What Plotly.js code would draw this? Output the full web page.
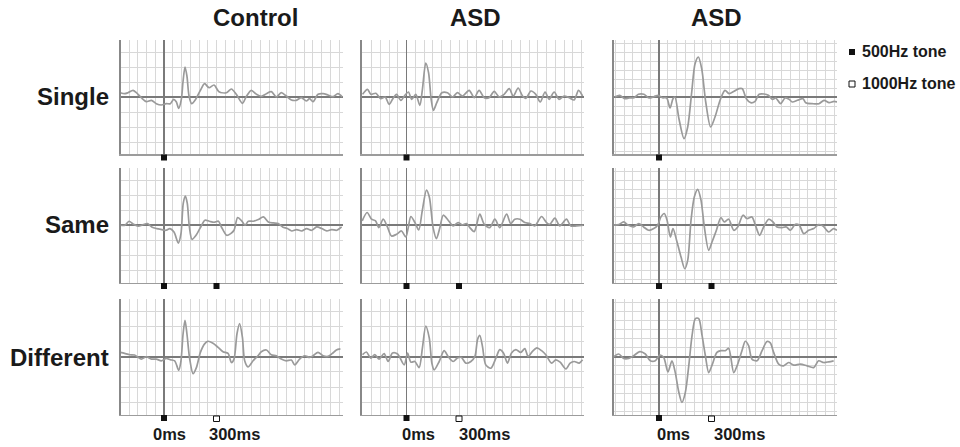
<!DOCTYPE html>
<html>
<head>
<meta charset="utf-8">
<script src="https://cdn.plot.ly/plotly-3.0.1.min.js"></script>
<style>html,body{margin:0;padding:0;background:#fff;}#chart{width:960px;height:447px;}</style>
</head>
<body>
<div id="chart"></div>
<script>
// ---- labels ----
const columnTitles = ['Control', 'ASD', 'ASD'];
const rowLabels = ['Single', 'Same', 'Different'];
const toneNames = ['500Hz tone', '1000Hz tone'];
const timeLabels = ['0ms', '300ms'];

// ---- stimulus onsets (ms) and tone type per condition row ----
const onsetSingle = [0];          const toneSingle = ['500Hz'];
const onsetSame = [0, 300];       const toneSame = ['500Hz', '500Hz'];
const onsetDifferent = [0, 300];  const toneDifferent = ['500Hz', '1000Hz'];

// ---- waveforms (time in ms, amplitude in arbitrary units, + up) ----
const tCtrlSingle = [-250,-225,-206,-177,-158,-130,-101,-72,-44,-15,13,36,55,70,84,99,109,120,131,143,158,181,208,232,257,286,314,356,385,413,448,471,499,528,556,585,613,642,670,699,728,756,785,813,832,852,880,909,937,966,994,1019];
const vCtrlSingle = [4.3,3.3,4.3,6.7,4.3,-0.7,-4.7,-3.3,-6.7,-8,-6.7,-6.7,-2.3,-4.7,-11.3,-2.3,16,30,21,1,-6.7,-2.3,6.7,13.3,9.3,12,5.3,4.3,8,2.7,-6.3,0.7,6.7,2.7,0.7,3.3,5.3,0,4.3,1,-3,-3.3,-0.7,-4,-1.7,-4.7,2.7,3.3,2,0.3,3.3,0];

const tAsdASingle = [-251,-223,-204,-175,-147,-122,-99,-80,-57,-32,-8,11,30,53,76,91,110,126,141,154,173,202,234,263,291,320,358,387,415,444,472,501,530,558,587,610,638,663,682,711,739,764,792,815,844,872,901,930,958,983,1006];
const vAsdASingle = [2.7,7.7,2.7,3.7,-1.7,0,-7.3,-2.3,2.7,-3.3,2,5,-2.3,2.7,-8.3,7.7,34,24.3,-2.3,-13.3,-5.7,4.3,4.3,0,4.3,1,6.7,-0.7,6.7,-0.7,-0.7,5.7,0,2.7,8.3,1,9,1,-1.3,6,2.7,-5,5,-2.3,5,-2.3,1,-0.7,-3,6.7,1];

const tAsdBSingle = [-253,-225,-196,-171,-143,-118,-86,-57,-29,-4,19,44,63,80,91,114,143,164,187,206,225,244,267,295,320,352,377,400,429,457,476,499,524,549,572,600,625,648,667,695,720,743,762,791,823,838,876,914,943,972,1000,1019];
const vAsdBSingle = [0,1.7,-1.7,-1,-0.7,2.7,2.7,-1,0.3,1.7,-0.7,-1,-11,-1.7,0,-21.7,-41.7,-30,5,33.3,40,28.3,-5,-30,-20,-1.7,6.7,3.3,5.7,8.3,8.3,-1.7,-5.7,-4.3,2.7,3,1.7,-2.3,-1,-6.7,-1,-2.3,-5,-3.3,-1.7,-5.7,-6.7,-6.7,-3.3,-5.7,-4.3,-5];

const tCtrlSame = [-248,-223,-200,-175,-147,-118,-95,-70,-42,-13,11,34,57,82,97,110,122,133,145,160,183,210,234,259,286,311,328,358,381,400,421,444,463,482,511,539,568,596,625,653,678,705,730,758,787,815,844,872,901,930,958,987,1015];
const vCtrlSame = [0,0,4,1,-1,0.7,1.7,-1.7,-3.3,-4.3,-5,-3.3,-6.7,-17.7,-8.3,21.7,29,21.7,-1.7,-14,-10,-1.7,5,4,3,4,-1.7,-10,-8.3,-5,7.7,4.3,0,4,4,5.7,8.3,3.3,2.3,1.7,-1.7,-3.3,-5.7,-4.3,-5.7,-3.3,-5,-1.7,-3.3,-5.7,-4.3,-5,-1.7];

const tAsdASame = [-253,-225,-200,-177,-158,-133,-109,-86,-57,-29,-4,10,25,48,70,90,114,131,152,171,191,210,238,267,295,318,343,362,387,419,444,476,505,533,572,596,619,648,676,705,733,772,800,819,848,876,914,939,972,1010];
const vAsdASame = [4.3,12.7,6,4.3,-2.3,6,-1.7,-10.7,-9,-5.7,-11.7,-2.3,8.7,2.7,-4.7,14.3,35,27.7,-2.3,-13.3,-2.3,10,5,-0.7,2.7,0.3,1.7,-2.3,-6.3,11,1,-2.3,6,-2.3,11,1.7,6,6,2.7,1.7,-0.7,8.7,2.7,1,7,-0.7,6,-0.7,-0.7,0];

const tAsdBSame = [-259,-230,-202,-175,-145,-116,-88,-59,-30,-8,11,30,46,65,80,103,126,147,164,183,202,221,240,259,284,303,328,354,373,398,427,450,480,503,531,551,575,598,627,651,674,703,728,751,779,802,827,855,884,912,937,970,998,1017];
const vAsdBSame = [0,0.7,3.3,0,-1.7,1.7,-1.7,-5,-3.3,0,8.3,11.7,5,-11.7,-3.3,-16.7,-31.7,-43.3,-35,5,28.3,35.7,25,-1.7,-25,-16.7,-5,7.7,3.3,6,-5,-1.7,10,6.7,8.3,0,-10,-1.7,6,3.3,-1.7,-2.3,-1.7,-5,1,0,-8.3,-5,-3.3,0.7,-0.7,-6.7,-3.3,-5];

const tCtrlDifferent = [-250,-225,-196,-168,-130,-101,-72,-44,-15,13,36,61,84,97,109,120,131,147,166,185,208,232,251,280,309,337,366,385,400,417,432,448,461,480,509,537,556,585,613,642,670,699,728,747,775,804,832,852,880,909,937,962,985,1008];
const vCtrlDifferent = [4.3,3.3,2,1.7,-2.3,0,-2.3,-2.3,-4,-1.7,-3,-4,-13.3,-4,22.7,36,22.7,-2.3,-16.7,-10.7,4.3,12.7,15.3,13.3,9.3,5,3.3,-5.7,-2.3,22.7,32.7,19.3,-4,-10,-4,1,5,6.7,2,1,-2.3,-4,-3.3,-8,-2.3,1,-0.7,1,4.3,1,0.3,3.3,6.7,7.7];

const tAsdADifferent = [-251,-229,-204,-181,-156,-128,-105,-80,-51,-13,6,25,48,72,91,110,130,145,158,187,215,238,267,291,314,339,368,391,406,419,434,453,482,511,533,554,577,600,625,653,676,695,720,745,772,796,829,853,878,911,935,958,987,1006];
const vAsdADifferent = [2,4.7,-1.3,2,-2.3,3,-4.7,3.7,2.7,-8,3.7,-5.3,-4.7,-10.7,8.7,30.3,18.7,-6.3,-13,-4.7,6,0.3,-4.7,-1.3,-0.7,-6.3,-4.7,0.3,17,21,10.3,-8,-11.3,-1.3,7,3.7,-6.3,3.7,7,4.3,8,0.3,5.3,8.7,6,2,-6.3,-3,-5.3,-12,-6.3,-4.7,-6.3,-3];

const tAsdBDifferent = [-263,-230,-202,-173,-145,-110,-78,-50,-21,4,27,51,74,93,112,131,150,170,189,208,227,246,265,284,303,331,354,379,398,427,446,474,493,512,531,560,589,617,636,655,684,712,741,770,808,846,884,912,941,970,998];
const vAsdBDifferent = [-0.7,2.7,-1.7,-1.7,1,5,2.7,-4,-4,1.7,-0.7,-15,-4,-15.7,-34,-45,-35.7,-9,21,37.7,37.7,21,1,-15.7,-8.3,4.3,6,6,8.3,-15.7,-9,6,15.3,11,-2.3,-4,6,15,13.7,4.3,-7.3,-9,-5.7,-8.3,-7.3,-9,-10.7,-4,-5.7,-5,-4];

const panels = [
  [[tCtrlSingle, vCtrlSingle], [tAsdASingle, vAsdASingle], [tAsdBSingle, vAsdBSingle]],
  [[tCtrlSame, vCtrlSame], [tAsdASame, vAsdASame], [tAsdBSame, vAsdBSame]],
  [[tCtrlDifferent, vCtrlDifferent], [tAsdADifferent, vAsdADifferent], [tAsdBDifferent, vAsdBDifferent]]
];
const rowOnsets = [onsetSingle, onsetSame, onsetDifferent];
const rowTones = [toneSingle, toneSame, toneDifferent];

// ---- geometry (pixels) ----
const W = 960, H = 447;
const colPx = [[120.5, 343, 164], [362, 584, 406.5], [614, 837, 659]]; // left, right, 0ms position
const rowPx = [[40, 154], [168, 282.5], [299, 414.5]];                 // top, bottom
const msPerPx = 1 / 0.175;
const yHalf = 57;
const yGridStep = [15, 15, 9];

const px = v => v / W;
const py = v => 1 - v / H;

const data = [];
const layout = {
  width: W, height: H,
  margin: {l: 0, r: 0, t: 0, b: 0},
  paper_bgcolor: '#fff', plot_bgcolor: 'rgba(0,0,0,0)',
  showlegend: false,
  font: {family: 'Liberation Sans, Arial, sans-serif', color: '#1a1a1a'},
  annotations: [], shapes: []
};

let k = 0;
for (let r = 0; r < 3; r++) {
  for (let c = 0; c < 3; c++) {
    k++;
    const xa = 'xaxis' + (k === 1 ? '' : k), ya = 'yaxis' + (k === 1 ? '' : k);
    const xr = 'x' + (k === 1 ? '' : k), yr = 'y' + (k === 1 ? '' : k);
    const [L, R, S] = colPx[c];
    const [T, B] = rowPx[r];
    layout[xa] = {
      domain: [px(L), px(R)], anchor: yr,
      range: [(L - S) * msPerPx, (R - S) * msPerPx],
      showgrid: true, gridcolor: '#d8d8d8', gridwidth: 1, tick0: 0, dtick: 50,
      zeroline: true, zerolinecolor: '#7a7a7a', zerolinewidth: 1.6,
      showline: true, linecolor: '#9c9c9c', linewidth: 1.5,
      showticklabels: false, ticks: '', fixedrange: true
    };
    layout[ya] = {
      domain: [py(B), py(T)], anchor: xr,
      range: [-yHalf, yHalf],
      showgrid: true, gridcolor: '#d8d8d8', gridwidth: 1, tick0: 0, dtick: yGridStep[c],
      zeroline: true, zerolinecolor: '#7a7a7a', zerolinewidth: 1.6,
      showline: true, linecolor: '#888888', linewidth: 2,
      showticklabels: false, ticks: '', fixedrange: true
    };
    const [t, v] = panels[r][c];
    data.push({
      type: 'scatter', mode: 'lines', x: t, y: v, xaxis: xr, yaxis: yr,
      line: {color: '#9a9a9a', width: 1.7, shape: 'spline', smoothing: 0.8},
      hoverinfo: 'skip'
    });
    // stimulus onset markers below the time axis (x from data, y in pixels under the axis)
    rowOnsets[r].forEach((on, j) => {
      const filled = rowTones[r][j] === '500Hz';
      layout.shapes.push({
        type: 'rect', xref: xr, yref: 'paper',
        xsizemode: 'pixel', xanchor: on, x0: -3, x1: 3,
        ysizemode: 'pixel', yanchor: py(B), y0: filled ? -6.5 : -7, y1: filled ? -0.5 : -1.5,
        fillcolor: filled ? '#111' : '#fff', line: {color: '#111', width: filled ? 0 : 1}
      });
    });
  }
}

// column titles
const colCenters = [255, 475, 716];
columnTitles.forEach((s, i) => layout.annotations.push({
  text: '<b>' + s + '</b>', xref: 'paper', yref: 'paper', x: px(colCenters[i]), y: py(17),
  xanchor: 'center', yanchor: 'middle', showarrow: false, font: {size: 24, color: '#1a1a1a'}
}));
// row labels
const rowCenters = [97, 224, 357];
rowLabels.forEach((s, i) => layout.annotations.push({
  text: '<b>' + s + '</b>', xref: 'paper', yref: 'paper', x: px(111), y: py(rowCenters[i]),
  xanchor: 'right', yanchor: 'middle', showarrow: false, font: {size: 24, color: '#1a1a1a'}
}));
// time labels under the bottom row
const timeLabelPx = [[169, 234], [418, 484], [673, 739]];
timeLabelPx.forEach(pair => pair.forEach((xp, j) => layout.annotations.push({
  text: '<b>' + timeLabels[j] + '</b>', xref: 'paper', yref: 'paper', x: px(xp), y: py(434),
  xanchor: 'center', yanchor: 'middle', showarrow: false, font: {size: 16.5, color: '#1a1a1a'}
})));
// legend
const legendY = [52, 84];
toneNames.forEach((s, i) => {
  layout.annotations.push({
    text: '<b>' + s + '</b>', xref: 'paper', yref: 'paper', x: px(860), y: py(legendY[i]),
    xanchor: 'left', yanchor: 'middle', showarrow: false, font: {size: 16, color: '#1a1a1a'}
  });
  layout.shapes.push({
    type: 'rect', xref: 'paper', yref: 'paper',
    x0: px(849), x1: px(855), y0: py(legendY[i] + 3), y1: py(legendY[i] - 3),
    fillcolor: i === 0 ? '#111' : '#fff', line: {color: '#111', width: i === 0 ? 0 : 1}
  });
});

Plotly.newPlot('chart', data, layout, {staticPlot: true, displayModeBar: false});
</script>
</body>
</html>
